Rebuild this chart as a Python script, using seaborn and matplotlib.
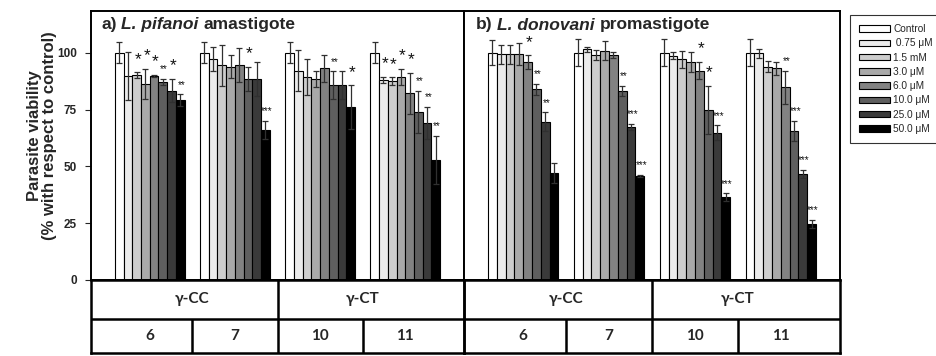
import numpy as np
import pandas as pd
import matplotlib
matplotlib.use("Agg")
import matplotlib.pyplot as plt
import seaborn as sns
from matplotlib.patches import Patch

# ---------------- data ----------------
concs = ["Control", " 0.75 μM", "1.5 mM", "3.0 μM", "6.0 μM", "10.0 μM", "25.0 μM", "50.0 μM"]
compounds = ["6", "7", "10", "11"]
families = ["γ-CC", "γ-CT"]

# a) L. pifanoi amastigote
a6_mean = [100, 89.7, 90.0, 86.2, 89.7, 87.1, 83.3, 79.2]
a6_err = [4.5, 10.5, 1.3, 6.5, 0.6, 1.3, 5.0, 2.5]
a6_sig = ["", "", "*", "*", "*", "**", "*", "**"]
a7_mean = [100, 97.1, 94.4, 93.8, 94.4, 88.4, 88.4, 66.0]
a7_err = [4.5, 5.2, 9.0, 5.0, 7.5, 5.2, 7.5, 4.0]
a7_sig = ["", "", "", "", "", "*", "", "***"]
a10_mean = [100, 92.1, 89.4, 88.6, 93.1, 85.8, 85.8, 76.0]
a10_err = [4.5, 9.0, 8.0, 3.5, 6.0, 6.0, 6.3, 9.6]
a10_sig = ["", "", "", "", "", "**", "", "*"]
a11_mean = [100, 88.0, 87.4, 89.4, 82.1, 74.0, 69.2, 52.8]
a11_err = [4.5, 1.5, 1.7, 3.4, 9.0, 9.3, 7.0, 10.6]
a11_sig = ["", "*", "*", "*", "*", "**", "**", "**"]

# b) L. donovani promastigote
b6_mean = [100, 99.4, 99.4, 99.4, 95.8, 84.0, 69.7, 46.9]
b6_err = [5.6, 4.2, 4.2, 5.0, 3.0, 2.4, 4.1, 4.4]
b6_sig = ["", "", "", "", "*", "**", "**", ""]
b7_mean = [100, 101.5, 99.0, 100.9, 99.0, 83.3, 67.4, 45.8]
b7_err = [6.0, 1.2, 2.2, 4.3, 1.2, 2.2, 1.3, 0.4]
b7_sig = ["", "", "", "", "", "**", "***", "***"]
b10_mean = [100, 98.7, 97.1, 95.8, 92.1, 74.8, 64.8, 36.4]
b10_err = [6.0, 1.5, 3.8, 4.4, 3.7, 10.7, 3.3, 1.7]
b10_sig = ["", "", "", "", "*", "*", "***", "***"]
b11_mean = [100, 99.7, 93.8, 93.1, 84.8, 65.7, 46.6, 24.6]
b11_err = [6.0, 2.0, 2.5, 2.9, 7.3, 4.4, 1.8, 1.8]
b11_sig = ["", "", "", "", "**", "***", "***", "***"]

colors = ["#ffffff", "#ebebeb", "#cdcdcd", "#a9a9a9", "#828282", "#5f5f5f", "#3a3a3a", "#000000"]


def panel_df(means, errs, sigs):
    rows = []
    for comp, m, e, s in zip(compounds, means, errs, sigs):
        for c, mv, ev, sv in zip(concs, m, e, s):
            rows.append(dict(compound=comp, conc=c, value=mv, err=ev, sig=sv))
    return pd.DataFrame(rows)


df_a = panel_df([a6_mean, a7_mean, a10_mean, a11_mean],
                [a6_err, a7_err, a10_err, a11_err],
                [a6_sig, a7_sig, a10_sig, a11_sig])
df_b = panel_df([b6_mean, b7_mean, b10_mean, b11_mean],
                [b6_err, b7_err, b10_err, b11_err],
                [b6_sig, b7_sig, b10_sig, b11_sig])

# ---------------- figure ----------------
sns.set_theme(style="white")
plt.rcParams['font.family'] = ['Liberation Sans', 'DejaVu Sans']

W, H = 936, 356
fig = plt.figure(figsize=(W / 100, H / 100), dpi=100)


def fx(px):
    return px / W


def fy(py):
    return 1 - py / H


TOP, BASE, TBOT = 11, 280, 353
XL, XM, XR = 91, 464, 840
ax_a = fig.add_axes([fx(XL), fy(BASE), fx(XM) - fx(XL), fy(TOP) - fy(BASE)])
ax_b = fig.add_axes([fx(XM), fy(BASE), fx(XR) - fx(XM), fy(TOP) - fy(BASE)])
tab_a = fig.add_axes([fx(XL), fy(TBOT), fx(XM) - fx(XL), fy(BASE) - fy(TBOT)], sharex=ax_a)
tab_b = fig.add_axes([fx(XM), fy(TBOT), fx(XR) - fx(XM), fy(BASE) - fy(TBOT)], sharex=ax_b)

XLIM = (-0.69, 3.69)
YTOP = (BASE - TOP) / 2.273


def draw_panel(ax, df):
    sns.barplot(data=df, x="compound", y="value", hue="conc", order=compounds,
                hue_order=concs, palette=colors, width=0.82, gap=0,
                edgecolor="black", linewidth=0.8, errorbar=None, legend=False,
                saturation=1, ax=ax)
    xs, ys, es = [], [], []
    for ci, cont in enumerate(ax.containers):
        for gi, bar in enumerate(cont):
            row = df[(df.compound == compounds[gi]) & (df.conc == concs[ci])].iloc[0]
            bw = bar.get_width()
            x = bar.get_x() + bw / 2
            xs.append(x)
            ys.append(row.value)
            es.append(row.err)
            if row.sig:
                big = row.sig == "*"
                ax.text(x + 0.15 * bw, row.value + row.err + (5.8 if big else 4.2),
                        row.sig, ha="center", va="center",
                        fontsize=12.5 if big else 7, color="#111111", zorder=5)
    ax.errorbar(xs, ys, yerr=es, fmt="none", ecolor="#303030", elinewidth=0.9,
                capsize=2.3, capthick=0.9, zorder=4)
    ax.set_xlim(*XLIM)
    ax.set_ylim(0, YTOP)
    ax.set_xlabel("")
    ax.set_ylabel("")
    ax.set_xticks(range(len(compounds)))
    ax.set_xticklabels([])
    ax.tick_params(axis="x", direction="out", length=3, width=0.8, bottom=True,
                   colors="black")
    for sp in ax.spines.values():
        sp.set_visible(True)
        sp.set_color("black")
        sp.set_linewidth(1.4)


draw_panel(ax_a, df_a)
draw_panel(ax_b, df_b)

ax_a.set_yticks([0, 25, 50, 75, 100])
ax_a.set_yticklabels(["0", "25", "50", "75", "100"], fontsize=8.5, fontweight="bold")
ax_a.tick_params(axis="y", direction="out", length=4, width=0.8, left=True, pad=6)
ax_b.set_yticks([])

ax_a.set_ylabel("Parasite viability\n(% with respect to control)", fontsize=12,
                fontweight="bold", linespacing=1.0)
ax_a.yaxis.set_label_coords((57 - XL) / (XM - XL), 0.535)


def panel_title(ax, prefix, species, rest):
    t1 = ax.text((101 - XL) / (XM - XL) if ax is ax_a else (476 - XM) / (XR - XM),
                 (BASE - 25) / (BASE - TOP), prefix, transform=ax.transAxes,
                 fontsize=12.5, fontweight="bold", va="center", ha="left")
    t2 = ax.annotate(species, xy=(1, 0), xycoords=t1, xytext=(3.4, 0),
                     textcoords="offset points", va="bottom", ha="left",
                     fontsize=12.5, fontweight="bold", fontstyle="italic")
    ax.annotate(rest, xy=(1, 0), xycoords=t2, xytext=(3.4, 0),
                textcoords="offset points", va="bottom", ha="left",
                fontsize=12.5, fontweight="bold")


panel_title(ax_a, "a)", "L. pifanoi", "amastigote")
panel_title(ax_b, "b)", "L. donovani", "promastigote")

# ---------------- table below ----------------
ROWY = (TBOT - 319) / (TBOT - BASE)
tfont = ['Lato', 'Noto Sans', 'DejaVu Sans']
for tab in (tab_a, tab_b):
    tab.set_facecolor("none")
    tab.set_ylim(0, 1)
    tab.set_xticks([])
    tab.set_yticks([])
    for sp in tab.spines.values():
        sp.set_visible(True)
        sp.set_color("black")
        sp.set_linewidth(1.8)
    tab.axhline(ROWY, color="black", lw=1.8)
    tab.plot([1.5, 1.5], [0, 1], color="black", lw=1.8, solid_capstyle="butt")
    for xd in (0.5, 2.5):
        tab.plot([xd, xd], [0, ROWY], color="black", lw=1.8, solid_capstyle="butt")
    for k, fam in enumerate(families):
        tab.text(0.5 + 2 * k, (1 + ROWY) / 2, fam, ha="center", va="center",
                 fontsize=11, fontweight="bold", family=tfont)
    for gi, comp in enumerate(compounds):
        tab.text(gi, ROWY / 2, comp, ha="center", va="center", fontsize=11,
                 fontweight="bold", family=tfont)
    tab.set_xlim(*XLIM)

# ---------------- legend ----------------
handles = [Patch(facecolor=c, edgecolor="black", linewidth=0.8) for c in colors]
leg = fig.legend(handles, concs, loc="upper left", bbox_to_anchor=(fx(850), fy(15)),
                 frameon=True, fancybox=False, edgecolor="black", fontsize=7.3,
                 handlelength=3.0, handleheight=0.62, labelspacing=0.42,
                 borderpad=0.9, handletextpad=0.35, borderaxespad=0)
leg.get_frame().set_linewidth(0.8)

fig.savefig("out.png", dpi=100)
